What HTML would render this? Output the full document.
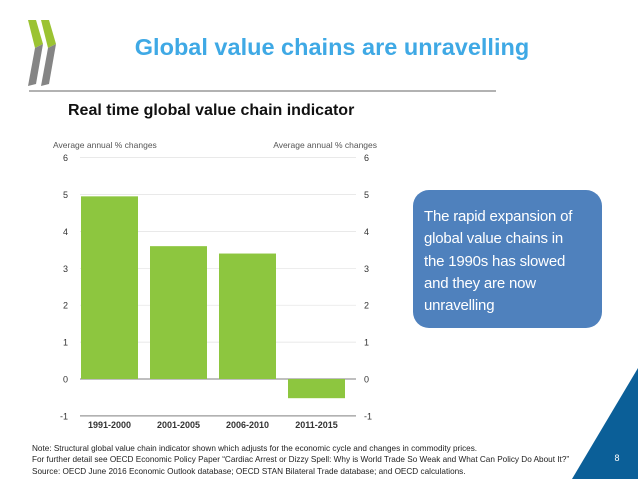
<!DOCTYPE html>
<html><head><meta charset="utf-8"><style>
body{margin:0;width:638px;height:479px;background:#fff;overflow:hidden;position:relative;font-family:"Liberation Sans",sans-serif}
.abs{position:absolute}
</style></head><body>
<svg class="abs" style="left:0;top:0" width="638" height="479">
 <g>
  <polygon points="28,20 36,20 43,44 35,48" fill="#9bc332"/>
  <polygon points="35,48 43,44 36,84 28,86" fill="#858585"/>
  <polygon points="41,20 49,20 56,44 48,48" fill="#9bc332"/>
  <polygon points="48,48 56,44 49,84 41,86" fill="#858585"/>
 </g>
 <line x1="29" y1="91" x2="496" y2="91" stroke="#666" stroke-width="1"/>
 <polygon points="638,368 638,479 572,479" fill="#0b5f98"/>
 <text x="617" y="461" font-size="9" fill="#fff" text-anchor="middle">8</text>
</svg>
<div class="abs" style="left:0;width:638px;top:34px;text-align:center;padding-left:26px;box-sizing:border-box;font-size:23.5px;font-weight:bold;color:#3fa9e5">Global value chains are unravelling</div>
<div class="abs" style="left:68px;top:102px;font-size:16px;font-weight:bold;color:#111">Real time global value chain indicator</div>
<svg id="chart" class="abs" style="left:0;top:0" width="400" height="440"></svg>
<div class="abs" style="left:413px;top:190px;width:189px;height:138px;background:#4f81bd;border-radius:16px;box-sizing:border-box;padding:16px 0 0 11px;color:#fff;font-size:15px;line-height:22.3px;white-space:nowrap;letter-spacing:-0.2px">The rapid expansion of<br>global value chains in<br>the 1990s has slowed<br>and they are now<br>unravelling</div>
<div class="abs" style="left:32px;top:443px;font-size:8.2px;line-height:11.3px;color:#222;white-space:nowrap">Note: Structural global value chain indicator shown which adjusts for the economic cycle and changes in commodity prices.<br>For further detail see OECD Economic Policy Paper “Cardiac Arrest or Dizzy Spell: Why is World Trade So Weak and What Can Policy Do About It?”<br>Source: OECD June 2016 Economic Outlook database; OECD STAN Bilateral Trade database; and OECD calculations.</div>
<script>
const categories=["1991-2000","2001-2005","2006-2010","2011-2015"];
const values=[4.95,3.6,3.4,-0.52];
const ticks=[-1,0,1,2,3,4,5,6];
const svg=document.getElementById('chart');
const NS='http://www.w3.org/2000/svg';
const y=v=>379-v*36.9;
const x0=80,x1=356,band=(x1-x0)/categories.length;
function mk(t,a){const e=document.createElementNS(NS,t);for(const k in a)e.setAttribute(k,a[k]);svg.appendChild(e);return e;}
ticks.forEach(t=>{
 const g=mk('line',{x1:x0,x2:x1,y1:y(t),y2:y(t),stroke:t===0||t===-1?'#999':'#e2e2e2','stroke-width':t===0||t===-1?1.2:0.7});
 
 
 const l=mk('text',{x:68,y:y(t)+3.5,'font-size':9,'text-anchor':'end',fill:'#333'});l.textContent=t;
 
 
 const r=mk('text',{x:364,y:y(t)+3.5,'font-size':9,'text-anchor':'start',fill:'#333'});r.textContent=t;
 
 
});
const a1=mk('text',{x:53,y:148,'font-size':8.5,fill:'#555'});a1.textContent='Average annual % changes';


const a2=mk('text',{x:377,y:148,'font-size':8.5,fill:'#555','text-anchor':'end'});a2.textContent='Average annual % changes';


categories.forEach((c,i)=>{
 const v=values[i];const bx=x0+i*band+1,bw=band-12;
 const r=mk('rect',{x:bx,y:Math.min(y(v),y(0)),width:bw,height:Math.abs(y(v)-y(0)),fill:'#8dc63f'});
 
 
 const t=mk('text',{x:bx+bw/2,y:428,'font-size':9,'font-weight':'bold','text-anchor':'middle',fill:'#333'});t.textContent=c;
 
 
});
</script>
</body></html>
